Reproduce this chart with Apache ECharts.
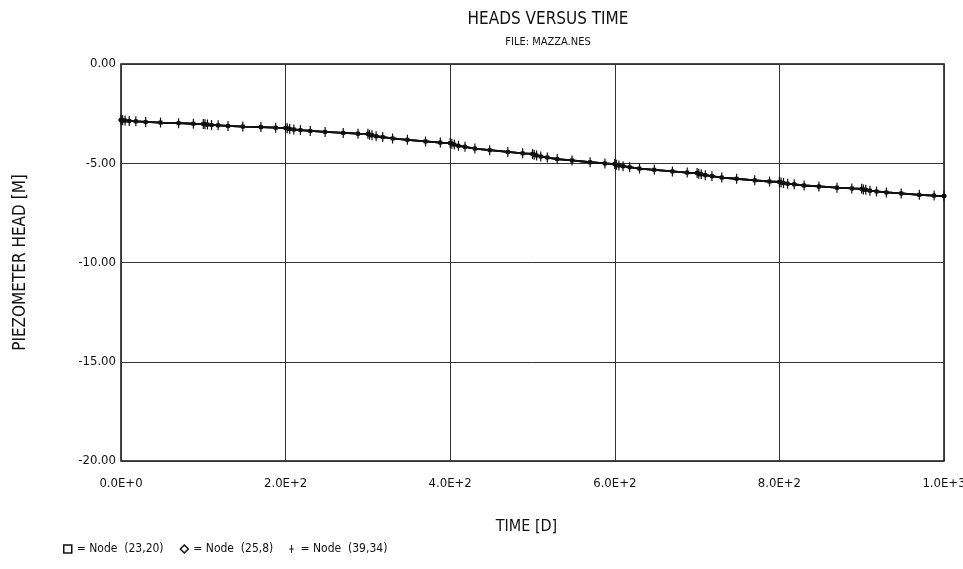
<!DOCTYPE html>
<html>
<head>
<meta charset="utf-8">
<title>Heads versus time</title>
<script src="https://cdn.jsdelivr.net/npm/echarts@6/dist/echarts.min.js"></script>
<style>
  html, body { margin: 0; padding: 0; background: #ffffff; }
  #chart { width: 963px; height: 569px; }
</style>
</head>
<body>
<div id="chart"></div>
<script>
// time in days
var times = [
  0, 2, 5, 10, 18, 30, 48, 70, 88,
  100, 102, 105, 110, 118, 130, 148, 170, 188,
  200, 202, 205, 210, 218, 230, 248, 270, 288,
  300, 302, 305, 310, 318, 330, 348, 370, 388,
  400, 402, 405, 410, 418, 430, 448, 470, 488,
  500, 502, 505, 510, 518, 530, 548, 570, 588,
  600, 602, 605, 610, 618, 630, 648, 670, 688,
  700, 702, 705, 710, 718, 730, 748, 770, 788,
  800, 802, 805, 810, 818, 830, 848, 870, 888,
  900, 902, 905, 910, 918, 930, 948, 970, 988,
  1000
];
// piezometer head [M]
var heads = [
  -2.82, -2.84, -2.85, -2.87, -2.89, -2.92, -2.95, -2.98, -3.01,
  -3.02, -3.04, -3.05, -3.07, -3.09, -3.12, -3.15, -3.18, -3.21,
  -3.22, -3.24, -3.27, -3.30, -3.33, -3.37, -3.42, -3.47, -3.51,
  -3.52, -3.56, -3.59, -3.64, -3.68, -3.75, -3.82, -3.90, -3.96,
  -3.98, -4.02, -4.06, -4.12, -4.17, -4.26, -4.34, -4.43, -4.50,
  -4.53, -4.57, -4.61, -4.66, -4.71, -4.79, -4.86, -4.95, -5.01,
  -5.04, -5.08, -5.11, -5.15, -5.20, -5.27, -5.33, -5.41, -5.47,
  -5.49, -5.53, -5.56, -5.60, -5.65, -5.72, -5.78, -5.86, -5.92,
  -5.94, -5.97, -6.00, -6.03, -6.06, -6.12, -6.17, -6.23, -6.27,
  -6.29, -6.32, -6.34, -6.38, -6.42, -6.47, -6.52, -6.59, -6.63,
  -6.65
];
var nodeNames = ["Node  (23,20)", "Node  (25,8)", "Node  (39,34)"];
var xTickLabels = ["0.0E+0", "2.0E+2", "4.0E+2", "6.0E+2", "8.0E+2", "1.0E+3"];
var yTickLabels = ["-20.00", "-15.00", "-10.00", "-5.00", "0.00"];

var plusIcon = "path://M4,0h2v18h-2zM0,8h10v2h-10z";
var font = "DejaVu Sans Condensed";

var pts = times.map(function(t, i) { return [t, heads[i]]; });

var myChart = echarts.init(document.getElementById("chart"));
var option = {
  animation: false,
  backgroundColor: "#ffffff",
  textStyle: { fontFamily: font, color: "#111" },
  title: {
    text: "HEADS VERSUS TIME",
    subtext: "FILE: MAZZA.NES",
    left: 543,
    textAlign: "center",
    top: 6,
    itemGap: 9,
    textStyle: { fontFamily: font, fontSize: 17, fontWeight: "normal", color: "#111" },
    subtextStyle: { fontFamily: font, fontSize: 11, color: "#111" }
  },
  legend: {
    left: 58,
    top: 538,
    itemGap: 16,
    itemWidth: 8,
    itemHeight: 8,
    textStyle: { fontFamily: font, fontSize: 12, color: "#111" },
    formatter: function(name) { return "= " + name; },
    data: [
      { name: nodeNames[0], icon: "rect", itemStyle: { color: "#fff", borderColor: "#111", borderWidth: 1.5 } },
      { name: nodeNames[1], icon: "diamond", itemStyle: { color: "#fff", borderColor: "#111", borderWidth: 1.5 } },
      { name: nodeNames[2], icon: plusIcon, itemStyle: { color: "#111" } }
    ]
  },
  grid: {
    left: 121,
    right: 19,
    top: 64,
    bottom: 108,
    outerBoundsMode: "none",
    show: true,
    borderColor: "#111",
    borderWidth: 1.5
  },
  xAxis: {
    type: "value",
    min: 0,
    max: 1000,
    interval: 200,
    name: "TIME [D]",
    nameLocation: "middle",
    nameGap: 58,
    nameTextStyle: { fontFamily: font, fontSize: 16, color: "#111", padding: [0, 12, 0, 0] },
    axisLine: { show: false },
    axisTick: { show: false },
    axisLabel: {
      margin: 16,
      fontSize: 13,
      color: "#111",
      formatter: function(v) { return xTickLabels[Math.round(v / 200)]; }
    },
    splitLine: { show: true, lineStyle: { color: "#333", width: 1 } }
  },
  yAxis: {
    type: "value",
    min: -20,
    max: 0,
    interval: 5,
    name: "PIEZOMETER HEAD [M]",
    nameLocation: "middle",
    nameGap: 92,
    nameTextStyle: { fontFamily: font, fontSize: 17, color: "#111" },
    axisLine: { show: false },
    axisTick: { show: false },
    axisLabel: {
      margin: 5,
      fontSize: 13,
      color: "#111",
      formatter: function(v) { return yTickLabels[Math.round((v + 20) / 5)]; }
    },
    splitLine: { show: true, lineStyle: { color: "#333", width: 1 } }
  },
  series: [
    {
      name: nodeNames[0],
      type: "line",
      data: pts,
      symbol: "rect",
      symbolSize: 4,
      lineStyle: { color: "#111", width: 1.8 },
      itemStyle: { color: "#111" }
    },
    {
      name: nodeNames[1],
      type: "line",
      data: pts,
      symbol: "diamond",
      symbolSize: 5,
      lineStyle: { color: "#111", width: 1.8 },
      itemStyle: { color: "#111" }
    },
    {
      name: nodeNames[2],
      type: "line",
      data: pts,
      symbol: plusIcon,
      symbolSize: [6, 10],
      lineStyle: { color: "#111", width: 1.8 },
      itemStyle: { color: "#111" }
    }
  ]
};
myChart.setOption(option);
</script>
</body>
</html>
